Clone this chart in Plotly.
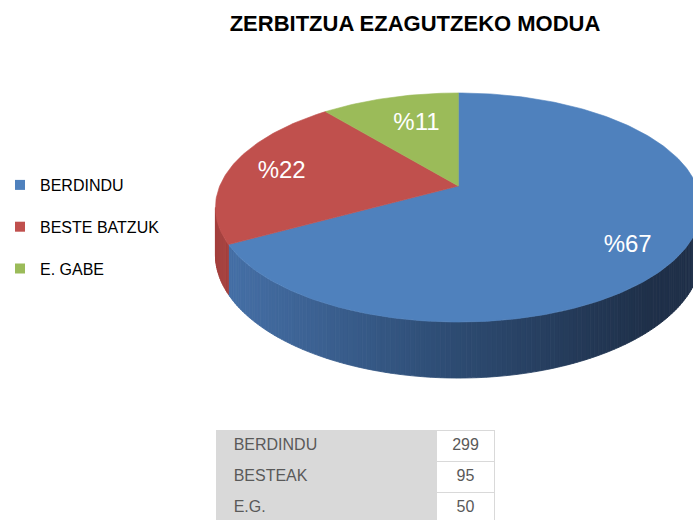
import numpy as np
import plotly.graph_objects as go

# ---------------- data ----------------
categories = ["BERDINDU", "BESTE BATZUK", "E. GABE"]
percents = [67, 22, 11]
table_labels = ["BERDINDU", "BESTEAK", "E.G."]
table_counts = [299, 95, 50]
title_text = "ZERBITZUA EZAGUTZEKO MODUA"

# ---------------- style ----------------
top_colors = ["#4F81BD", "#C0504D", "#9BBB59"]
side_colors = [None, "#A4403E", "#7E9A46"]          # None -> gradient
grad_stops_x = [226, 440, 650]
grad_stops_rgb = [(69, 111, 166), (46, 77, 117), (31, 48, 73)]
label_r = [0.81, 0.77, 0.66]
label_dtheta = [-6.7, 1.0, -2.5]

W, H = 693, 521
CX, CY = 457, 186          # projected pie centre (pixel space)
FX, FY, TILT = 240, 110.5, 0.1877
DEPTH = 45.5
FONT = "Liberation Sans"
CELL_INDENT = "\u00a0\u00a0"


def proj(theta_deg, r=1.0):
    th = np.radians(theta_deg)
    u = r * np.cos(th)
    v = r * np.sin(th)
    w = 1 + TILT * v
    return CX + FX * u / w, CY - FY * v / w


def depth_at(theta_deg):
    return DEPTH / (1 + TILT * np.sin(np.radians(theta_deg)))


def grad_color(x):
    rgb = [np.interp(x, grad_stops_x, [c[k] for c in grad_stops_rgb]) for k in range(3)]
    return "rgb(%d,%d,%d)" % tuple(int(round(c)) for c in rgb)


fig = go.Figure()

# slice angle ranges (start at 12 o'clock, clockwise)
ranges = []
start = 90.0
for p in percents:
    a0 = start
    a1 = start - p * 3.6
    ranges.append((a1, a0))
    start = a1

# visible front side between silhouette angles
sil = np.degrees(np.arcsin(TILT))
vis_lo, vis_hi = 180 + sil, 360 - sil

# ---- side faces ----
for i, (a1, a0) in enumerate(ranges):
    for shift in (-360, 0, 360):
        lo = max(a1 + shift, vis_lo)
        hi = min(a0 + shift, vis_hi)
        if hi <= lo:
            continue
        n = max(2, int(np.ceil((hi - lo) / 1.0)))
        edges = np.linspace(lo, hi, n + 1)
        for b0, b1 in zip(edges[:-1], edges[1:]):
            x0, y0 = proj(b0)
            x1, y1 = proj(b1)
            xs = [x0, x1, x1, x0, x0]
            ys = [y0, y1, y1 + depth_at(b1), y0 + depth_at(b0), y0]
            col = side_colors[i] if side_colors[i] else grad_color((x0 + x1) / 2)
            fig.add_trace(go.Scatter(
                x=xs, y=ys, mode="lines", fill="toself", fillcolor=col,
                line=dict(color=col, width=0.8), hoverinfo="skip", showlegend=False))

# ---- top faces ----
for i, (a1, a0) in enumerate(ranges):
    angs = np.linspace(a0, a1, max(3, int(abs(a0 - a1)) + 1))
    rx, ry = proj(angs)
    xs = [CX] + list(rx) + [CX]
    ys = [CY] + list(ry) + [CY]
    fig.add_trace(go.Scatter(
        x=xs, y=ys, mode="lines", fill="toself", fillcolor=top_colors[i],
        line=dict(color=top_colors[i], width=0.6), name=categories[i],
        hoverinfo="name", showlegend=False))

# ---- percentage labels ----
lx, ly = [], []
for i, (a1, a0) in enumerate(ranges):
    mid = (a0 + a1) / 2 + label_dtheta[i]
    x, y = proj(mid, label_r[i])
    lx.append(x)
    ly.append(y)
fig.add_trace(go.Scatter(
    x=lx, y=ly, mode="text", text=["%" + str(p) for p in percents],
    textfont=dict(family=FONT, size=24, color="white"),
    hoverinfo="skip", showlegend=False))

# ---- legend entries ----
for i, c in enumerate(categories):
    fig.add_trace(go.Scatter(
        x=[None], y=[None], mode="markers", name=c, legendgroup=c,
        marker=dict(symbol="square", size=10, color=top_colors[i])))

# ---- table ----
n = len(table_labels)
fig.add_trace(go.Table(
    domain=dict(x=[214 / W, 494 / W], y=[0, 1 - 430 / H]),
    columnwidth=[221, 59],
    header=dict(values=[CELL_INDENT + table_labels[0], str(table_counts[0])],
                fill_color=["#D9D9D9", "white"], line=dict(color="#D9D9D9", width=1),
                align=["left", "center"], height=31,
                font=dict(family=FONT, size=16, color="#595959")),
    cells=dict(values=[[CELL_INDENT + t for t in table_labels[1:]],
                       [str(v) for v in table_counts[1:]]],
               fill_color=[["#D9D9D9"] * (n - 1), ["white"] * (n - 1)],
               line=dict(color="#D9D9D9", width=1),
               align=["left", "center"], height=31,
               font=dict(family=FONT, size=16, color="#595959")),
))

fig.update_layout(
    width=W, height=H,
    margin=dict(l=0, r=0, t=0, b=0),
    paper_bgcolor="white", plot_bgcolor="white",
    xaxis=dict(range=[0, W], visible=False, fixedrange=True),
    yaxis=dict(range=[H, 0], visible=False, fixedrange=True),
    title=dict(text=title_text, x=415 / W, y=1 - 23 / H, xanchor="center", yanchor="middle",
               font=dict(family=FONT, size=22, color="black", weight="bold")),
    legend=dict(x=-4 / W, y=1 - 168 / H, xanchor="left", yanchor="top",
                font=dict(family=FONT, size=16, color="black"),
                itemwidth=30,
                tracegroupgap=18, bgcolor="rgba(0,0,0,0)"),
    showlegend=True,
)

fig.write_html("out.html", config={"displayModeBar": False},
               post_script="document.body.style.margin='0';document.body.style.overflow='hidden';")
